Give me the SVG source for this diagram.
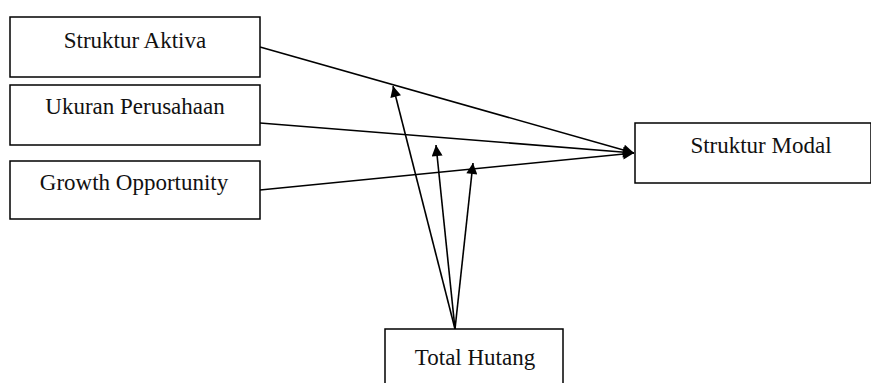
<svg xmlns="http://www.w3.org/2000/svg" width="871" height="383" viewBox="0 0 871 383">
<defs>
<style>
.box{fill:#fff;stroke:#000;stroke-width:1.5}
.lbl{font-family:'Liberation Serif','Times New Roman',serif;font-size:23px;fill:#111;text-anchor:middle}
.con{stroke:#000;stroke-width:1.6;fill:none;marker-end:url(#ah)}
</style>
<marker id="ah" viewBox="0 0 10 10" refX="10" refY="5" markerWidth="14" markerHeight="11" markerUnits="userSpaceOnUse" orient="auto">
<path d="M0,0 L10,5 L0,10 z" fill="#000"/>
</marker>
</defs>
<rect width="871" height="383" fill="#fff"/>
<g id="connectors">
<line class="con" x1="260" y1="47" x2="634" y2="153"/>
<line class="con" x1="260" y1="123" x2="634" y2="153"/>
<line class="con" x1="260" y1="190" x2="634" y2="153"/>
<line class="con" x1="455" y1="329" x2="393" y2="86"/>
<line class="con" x1="455" y1="329" x2="436" y2="145"/>
<line class="con" x1="455" y1="329" x2="473" y2="163"/>
</g>
<g id="struktur-aktiva"><rect class="box" x="10" y="17" width="250" height="60"/><text class="lbl" x="135" y="48">Struktur Aktiva</text></g>
<g id="ukuran-perusahaan"><rect class="box" x="10" y="85" width="250" height="60"/><text class="lbl" x="135" y="114">Ukuran Perusahaan</text></g>
<g id="growth-opportunity"><rect class="box" x="10" y="161" width="250" height="58"/><text class="lbl" x="134" y="190">Growth Opportunity</text></g>
<g id="struktur-modal"><rect class="box" x="635" y="123" width="236" height="60"/><text class="lbl" x="761" y="153">Struktur Modal</text></g>
<g id="total-hutang"><rect class="box" x="385" y="329" width="178" height="60"/><text class="lbl" x="475" y="365">Total Hutang</text></g>
</svg>
